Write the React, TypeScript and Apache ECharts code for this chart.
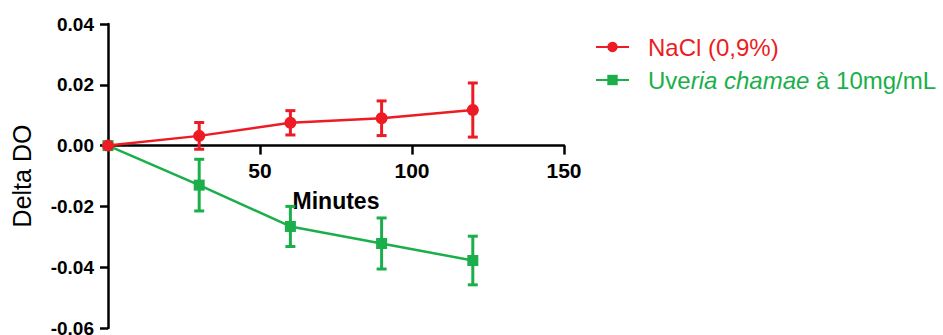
import React, { useEffect, useRef } from "react";
import * as echarts from "echarts";

const minutes = [0, 30, 60, 90, 120];
const naclMean = [0, 0.0032, 0.0075, 0.009, 0.0117];
const naclErr = [0, 0.0044, 0.004, 0.0057, 0.0089];
const uveriaMean = [0, -0.013, -0.0266, -0.0322, -0.0378];
const uveriaErr = [0, 0.0085, 0.0066, 0.0084, 0.008];
const seriesNames = ["NaCl (0,9%)", "Uveria chamae à 10mg/mL"];
const yMin = -0.06;
const yMax = 0.04;

const RED = "#ED1C24";
const GREEN = "#1AAF4B";
const FONT = "Liberation Sans, Arial, sans-serif";
const GRID_TOP = 24;
const GRID_BOTTOM = 7;
const H = 335;

function errorSeries(name: string, means: number[], errs: number[], color: string, z: number) {
  const data = minutes
    .map((m, i) => [m, means[i] - errs[i], means[i] + errs[i]])
    .filter((_, i) => errs[i] > 0);
  return {
    type: "custom",
    name,
    z,
    silent: true,
    data,
    renderItem: (params: any, api: any) => {
      const x = api.value(0);
      const lo = api.coord([x, api.value(1)]);
      const hi = api.coord([x, api.value(2)]);
      const hw = 5;
      const style = { stroke: color, lineWidth: 3 };
      return {
        type: "group",
        children: [
          { type: "line", shape: { x1: lo[0], y1: lo[1], x2: hi[0], y2: hi[1] }, style },
          { type: "line", shape: { x1: lo[0] - hw, y1: lo[1], x2: lo[0] + hw, y2: lo[1] }, style },
          { type: "line", shape: { x1: hi[0] - hw, y1: hi[1], x2: hi[0] + hw, y2: hi[1] }, style },
        ],
      };
    },
  };
}

export default function App() {
  const ref = useRef<HTMLDivElement>(null);
  useEffect(() => {
    if (!ref.current) return;
    const chart = echarts.init(ref.current, undefined, { renderer: "svg" });
    const gridH = H - GRID_TOP - GRID_BOTTOM;
    const zeroOffset = -((0 - yMin) / (yMax - yMin)) * gridH;
    chart.setOption({
      animation: false,
      grid: {
        left: 108,
        right: 379,
        top: GRID_TOP,
        bottom: GRID_BOTTOM,
        containLabel: false,
        outerBoundsMode: "none",
      },
      legend: {
        left: 595,
        top: 35,
        padding: 0,
        orient: "vertical",
        itemWidth: 33,
        itemHeight: 13,
        itemGap: 9,
        data: seriesNames,
        textStyle: {
          fontFamily: FONT,
          fontSize: 24,
          padding: [0, 0, 0, 14],
          rich: {
            r: { color: RED, fontSize: 24, fontFamily: FONT },
            g: { color: GREEN, fontSize: 24, fontFamily: FONT },
            gi: { color: GREEN, fontSize: 24, fontFamily: FONT, fontStyle: "italic" },
          },
        },
        formatter: (name: string) =>
          name === seriesNames[0] ? "{r|" + name + "}" : "{g|Uve}{gi|ria chamae}{g| à 10mg/mL}",
      },
      xAxis: {
        type: "value",
        min: 0,
        max: 150,
        interval: 50,
        position: "bottom",
        offset: zeroOffset,
        name: "Minutes",
        nameLocation: "middle",
        nameGap: 44,
        nameTextStyle: { fontFamily: FONT, fontSize: 23, fontWeight: "bold", color: "#000" },
        axisLine: { onZero: false, lineStyle: { color: "#000", width: 2.5 } },
        axisTick: { show: true, length: 9, lineStyle: { color: "#000", width: 2.5 } },
        axisLabel: {
          showMinLabel: false,
          margin: 14,
          fontFamily: FONT,
          fontSize: 21,
          fontWeight: "bold",
          color: "#000",
        },
        splitLine: { show: false },
      },
      yAxis: {
        type: "value",
        min: yMin,
        max: yMax,
        interval: 0.02,
        name: "Delta DO",
        nameLocation: "middle",
        nameGap: 74,
        nameTextStyle: { fontFamily: FONT, fontSize: 25, color: "#000" },
        axisLine: { show: true, onZero: false, lineStyle: { color: "#000", width: 2.5 } },
        axisTick: { show: true, length: 8, lineStyle: { color: "#000", width: 2.5 } },
        axisLabel: {
          margin: 14,
          fontFamily: FONT,
          fontSize: 19,
          fontWeight: "bold",
          color: "#000",
          formatter: (v: number) => v.toFixed(2),
        },
        splitLine: { show: false },
      },
      series: [
        {
          type: "line",
          name: seriesNames[0],
          data: minutes.map((m, i) => [m, naclMean[i]]),
          color: RED,
          symbol: "circle",
          symbolSize: 12,
          lineStyle: { width: 2.5, color: RED },
          itemStyle: { color: RED },
          z: 5,
        },
        {
          type: "line",
          name: seriesNames[1],
          data: minutes.map((m, i) => [m, uveriaMean[i]]),
          color: GREEN,
          symbol: "rect",
          symbolSize: 11,
          lineStyle: { width: 2.5, color: GREEN },
          itemStyle: { color: GREEN },
          z: 3,
        },
        errorSeries("err-nacl", naclMean, naclErr, RED, 4),
        errorSeries("err-uveria", uveriaMean, uveriaErr, GREEN, 2),
      ],
    });
    return () => chart.dispose();
  }, []);
  return (
    <div
      ref={ref}
      style={{ position: "fixed", left: 0, top: 0, width: 943, height: 335, background: "#fff" }}
    />
  );
}
